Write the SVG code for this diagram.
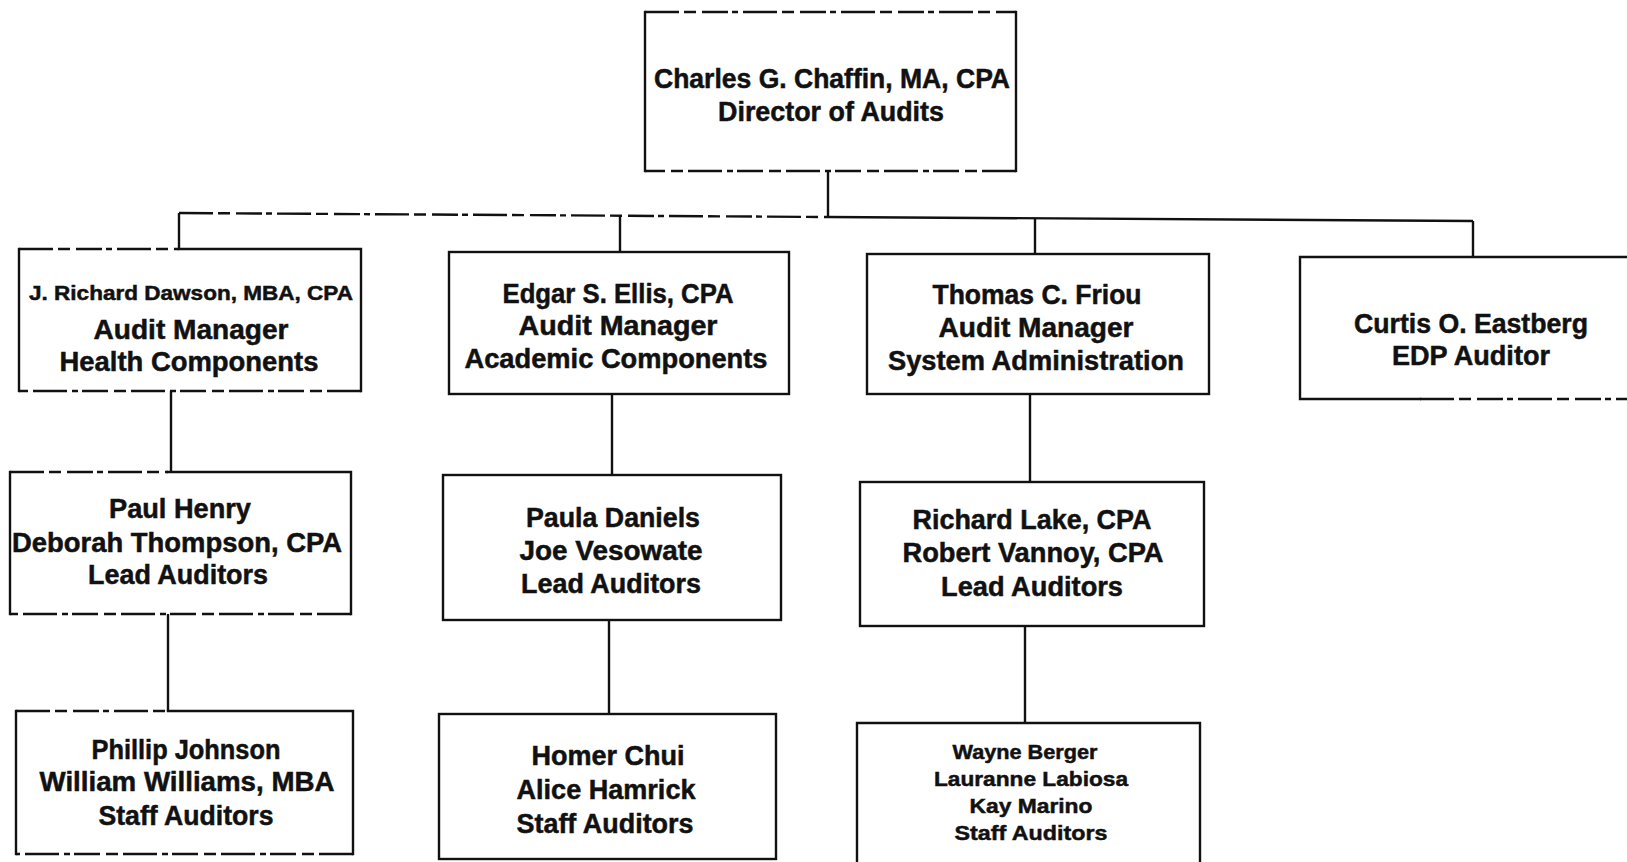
<svg xmlns="http://www.w3.org/2000/svg" width="1627" height="862" viewBox="0 0 1627 862">
<style>
  .edge { fill: none; stroke: #111; stroke-width: 2.4; stroke-linecap: square; }
  .broken { fill: none; stroke: #111; stroke-width: 2.4; stroke-dasharray: 34 5 12 6 26 4 6 5; }
  .conn { fill: none; stroke: #111; stroke-width: 2.4; }
  text { font-family: "Liberation Sans", Arial, sans-serif; font-weight: bold; fill: #111; stroke: #111; stroke-width: 0.5px; text-anchor: middle; }
  .t { font-size: 27px; }
  .s { font-size: 21px; }
</style>
<rect x="0" y="0" width="1627" height="862" fill="#ffffff"/>

<g id="connectors">
  <path class="conn" d="M828 171 V217"/>
  <path class="broken" d="M179 213 L828 217"/>
  <path class="conn" d="M828 217 L1473 221"/>
  <path class="conn" d="M179 213 V249"/>
  <path class="conn" d="M620 216 V252"/>
  <path class="conn" d="M1035 219 V254"/>
  <path class="conn" d="M1473 221 V257"/>
  <path class="conn" d="M171 391 V472"/>
  <path class="conn" d="M168 614 V711"/>
  <path class="conn" d="M612 394 V475"/>
  <path class="conn" d="M609 620 V714"/>
  <path class="conn" d="M1030 394 V482"/>
  <path class="conn" d="M1025 626 V723"/>
</g>

<g id="director">
  <path class="broken" d="M645 12 H1016"/>
  <path class="edge" d="M1016 12 V171"/>
  <path class="broken" d="M1016 171 H645"/>
  <path class="edge" d="M645 171 V12"/>
  <text class="t" x="832" y="88" textLength="356" lengthAdjust="spacingAndGlyphs">Charles G. Chaffin, MA, CPA</text>
  <text class="t" x="831" y="121" textLength="226" lengthAdjust="spacingAndGlyphs">Director of Audits</text>
</g>

<g id="dawson">
  <path class="broken" d="M19 249 H179"/>
  <path class="edge" d="M179 249 H361 V391"/>
  <path class="broken" d="M361 391 H19"/>
  <path class="edge" d="M19 391 V249"/>
  <text class="s" x="191" y="300" textLength="324" lengthAdjust="spacingAndGlyphs">J. Richard Dawson, MBA, CPA</text>
  <text class="t" x="191" y="339" textLength="195" lengthAdjust="spacingAndGlyphs">Audit Manager</text>
  <text class="t" x="189" y="371" textLength="259" lengthAdjust="spacingAndGlyphs">Health Components</text>
</g>

<g id="ellis">
  <rect class="edge" x="449" y="252" width="340" height="142"/>
  <text class="t" x="618" y="303" textLength="231" lengthAdjust="spacingAndGlyphs">Edgar S. Ellis, CPA</text>
  <text class="t" x="618" y="335" textLength="199" lengthAdjust="spacingAndGlyphs">Audit Manager</text>
  <text class="t" x="616" y="368" textLength="303" lengthAdjust="spacingAndGlyphs">Academic Components</text>
</g>

<g id="friou">
  <rect class="edge" x="867" y="254" width="342" height="140"/>
  <text class="t" x="1037" y="304" textLength="209" lengthAdjust="spacingAndGlyphs">Thomas C. Friou</text>
  <text class="t" x="1036" y="337" textLength="195" lengthAdjust="spacingAndGlyphs">Audit Manager</text>
  <text class="t" x="1036" y="370" textLength="296" lengthAdjust="spacingAndGlyphs">System Administration</text>
</g>

<g id="eastberg">
  <path class="edge" d="M1640 257 H1300 V399 H1420"/>
  <path class="broken" d="M1420 399 H1640"/>
  <text class="t" x="1471" y="333" textLength="234" lengthAdjust="spacingAndGlyphs">Curtis O. Eastberg</text>
  <text class="t" x="1471" y="365" textLength="158" lengthAdjust="spacingAndGlyphs">EDP Auditor</text>
</g>

<g id="henry">
  <path class="broken" d="M10 472 H168"/>
  <path class="edge" d="M168 472 H351 V614"/>
  <path class="broken" d="M351 614 H10"/>
  <path class="edge" d="M10 614 V472"/>
  <text class="t" x="180" y="518" textLength="142" lengthAdjust="spacingAndGlyphs">Paul Henry</text>
  <text class="t" x="177" y="552" textLength="330" lengthAdjust="spacingAndGlyphs">Deborah Thompson, CPA</text>
  <text class="t" x="178" y="584" textLength="180" lengthAdjust="spacingAndGlyphs">Lead Auditors</text>
</g>

<g id="daniels">
  <rect class="edge" x="443" y="475" width="338" height="145"/>
  <text class="t" x="613" y="527" textLength="174" lengthAdjust="spacingAndGlyphs">Paula Daniels</text>
  <text class="t" x="611" y="560" textLength="183" lengthAdjust="spacingAndGlyphs">Joe Vesowate</text>
  <text class="t" x="611" y="593" textLength="180" lengthAdjust="spacingAndGlyphs">Lead Auditors</text>
</g>

<g id="lake">
  <rect class="edge" x="860" y="482" width="344" height="144"/>
  <text class="t" x="1032" y="529" textLength="239" lengthAdjust="spacingAndGlyphs">Richard Lake, CPA</text>
  <text class="t" x="1033" y="562" textLength="261" lengthAdjust="spacingAndGlyphs">Robert Vannoy, CPA</text>
  <text class="t" x="1032" y="596" textLength="182" lengthAdjust="spacingAndGlyphs">Lead Auditors</text>
</g>

<g id="johnson">
  <path class="broken" d="M16 711 H168"/>
  <path class="edge" d="M168 711 H353 V854"/>
  <path class="broken" d="M353 854 H16"/>
  <path class="edge" d="M16 854 V711"/>
  <text class="t" x="186" y="759" textLength="189" lengthAdjust="spacingAndGlyphs">Phillip Johnson</text>
  <text class="t" x="187" y="791" textLength="295" lengthAdjust="spacingAndGlyphs">William Williams, MBA</text>
  <text class="t" x="186" y="825" textLength="175" lengthAdjust="spacingAndGlyphs">Staff Auditors</text>
</g>

<g id="chui">
  <rect class="edge" x="439" y="714" width="337" height="145"/>
  <text class="t" x="608" y="765" textLength="153" lengthAdjust="spacingAndGlyphs">Homer Chui</text>
  <text class="t" x="606" y="799" textLength="179" lengthAdjust="spacingAndGlyphs">Alice Hamrick</text>
  <text class="t" x="605" y="833" textLength="177" lengthAdjust="spacingAndGlyphs">Staff Auditors</text>
</g>

<g id="berger">
  <path class="edge" d="M857 870 V723 H1200 V870"/>
  <text class="s" x="1025" y="759" textLength="145" lengthAdjust="spacingAndGlyphs">Wayne Berger</text>
  <text class="s" x="1031" y="786" textLength="194" lengthAdjust="spacingAndGlyphs">Lauranne Labiosa</text>
  <text class="s" x="1031" y="813" textLength="123" lengthAdjust="spacingAndGlyphs">Kay Marino</text>
  <text class="s" x="1031" y="840" textLength="153" lengthAdjust="spacingAndGlyphs">Staff Auditors</text>
</g>
</svg>
